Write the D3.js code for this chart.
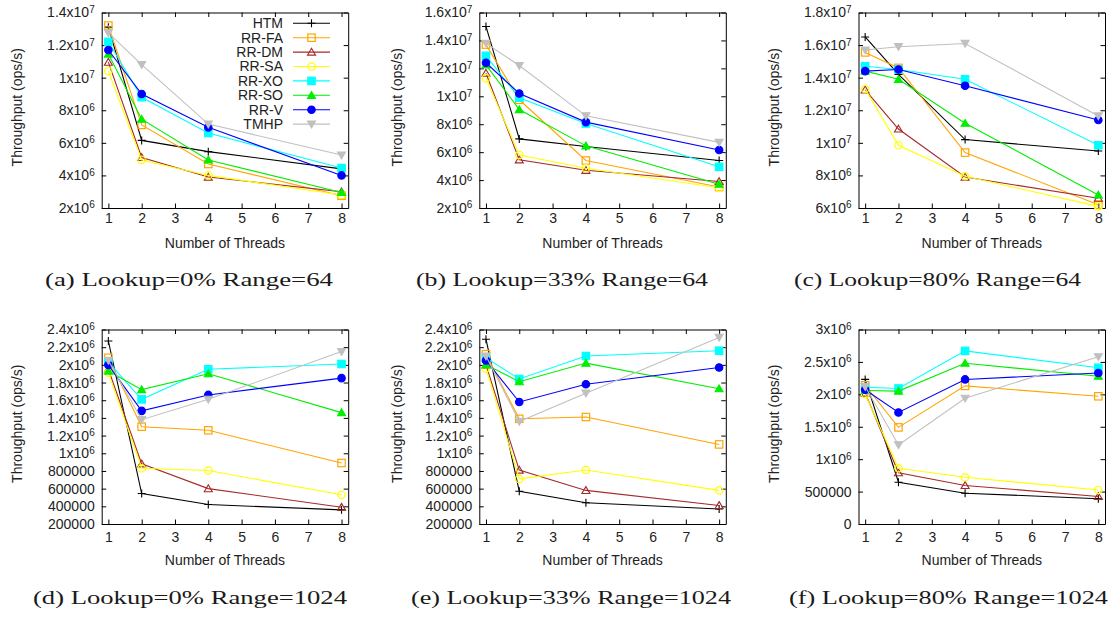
<!DOCTYPE html>
<html><head><meta charset="utf-8">
<script src="https://cdn.jsdelivr.net/npm/d3@7"></script>
<style>
body{margin:0;background:#fff}
svg{display:block}
text{font-family:"Liberation Sans",Arial,Helvetica,sans-serif}
</style>
</head><body>
<svg id="fig" width="1117" height="617"></svg>
<script>
// Thread counts on the x axis and the tick positions shown
const threads = [1, 2, 4, 8];
const xTicks = [1, 2, 3, 4, 5, 6, 7, 8];
const seriesNames = ["HTM", "RR-FA", "RR-DM", "RR-SA", "RR-XO", "RR-SO", "RR-V", "TMHP"];

// Throughput (ops/s) per series, order follows seriesNames
const panelA = [
  [13.1e6, 6.15e6, 5.46e6, 4.4e6],
  [13.2e6, 7.1e6, 4.7e6, 2.75e6],
  [10.95e6, 5.1e6, 3.9e6, 3.0e6],
  [10.4e6, 4.95e6, 4.0e6, 2.8e6],
  [12.2e6, 8.8e6, 6.6e6, 4.45e6],
  [11.45e6, 7.45e6, 4.95e6, 2.95e6],
  [11.7e6, 9.0e6, 6.95e6, 4.0e6],
  [12.75e6, 10.8e6, 7.15e6, 5.25e6]
];
const panelB = [
  [15.0e6, 6.95e6, 6.4e6, 5.4e6],
  [13.7e6, 9.75e6, 5.4e6, 3.5e6],
  [11.65e6, 5.45e6, 4.7e6, 3.9e6],
  [11.3e6, 5.8e6, 4.85e6, 3.45e6],
  [12.9e6, 9.9e6, 8.05e6, 4.95e6],
  [12.25e6, 9.05e6, 6.45e6, 3.7e6],
  [12.4e6, 10.2e6, 8.15e6, 6.15e6],
  [13.8e6, 12.2e6, 8.6e6, 6.7e6]
];
const panelC = [
  [16.5e6, 14.2e6, 10.2e6, 9.5e6],
  [15.55e6, 14.6e6, 9.4e6, 6.2e6],
  [13.25e6, 10.85e6, 7.9e6, 6.6e6],
  [13.3e6, 9.85e6, 7.95e6, 6.1e6],
  [14.7e6, 14.5e6, 13.9e6, 9.85e6],
  [14.4e6, 13.9e6, 11.2e6, 6.8e6],
  [14.4e6, 14.5e6, 13.5e6, 11.4e6],
  [15.7e6, 15.9e6, 16.1e6, 11.65e6]
];
const panelD = [
  [2.27e6, 5.45e5, 4.2e5, 3.6e5],
  [2.08e6, 1.3e6, 1.26e6, 8.9e5],
  [1.95e6, 8.8e5, 6.0e5, 3.9e5],
  [1.91e6, 8.3e5, 8.05e5, 5.3e5],
  [2.03e6, 1.61e6, 1.95e6, 2.01e6],
  [1.93e6, 1.72e6, 1.9e6, 1.46e6],
  [2.0e6, 1.48e6, 1.66e6, 1.85e6],
  [2.05e6, 1.38e6, 1.61e6, 2.15e6]
];
const panelE = [
  [2.29e6, 5.7e5, 4.4e5, 3.7e5],
  [2.12e6, 1.39e6, 1.41e6, 1.1e6],
  [2.0e6, 8.1e5, 5.8e5, 4.1e5],
  [1.96e6, 7.1e5, 8.1e5, 5.8e5],
  [2.08e6, 1.84e6, 2.1e6, 2.16e6],
  [2.0e6, 1.81e6, 2.02e6, 1.73e6],
  [2.05e6, 1.58e6, 1.78e6, 1.97e6],
  [2.1e6, 1.36e6, 1.68e6, 2.31e6]
];
const panelF = [
  [2.23e6, 6.45e5, 4.75e5, 3.9e5],
  [2.14e6, 1.49e6, 2.13e6, 1.97e6],
  [2.02e6, 7.9e5, 5.95e5, 4.25e5],
  [2.0e6, 8.6e5, 7.2e5, 5.25e5],
  [2.11e6, 2.09e6, 2.67e6, 2.41e6],
  [2.06e6, 2.05e6, 2.48e6, 2.28e6],
  [2.07e6, 1.72e6, 2.23e6, 2.33e6],
  [2.12e6, 1.22e6, 1.94e6, 2.58e6]
];

// Y tick values and their labels ("^" marks an exponent)
const yTicksA = [2e6, 4e6, 6e6, 8e6, 1e7, 1.2e7, 1.4e7];
const yLabelsA = ["2x10^6", "4x10^6", "6x10^6", "8x10^6", "1x10^7", "1.2x10^7", "1.4x10^7"];
const yTicksB = [2e6, 4e6, 6e6, 8e6, 1e7, 1.2e7, 1.4e7, 1.6e7];
const yLabelsB = ["2x10^6", "4x10^6", "6x10^6", "8x10^6", "1x10^7", "1.2x10^7", "1.4x10^7", "1.6x10^7"];
const yTicksC = [6e6, 8e6, 1e7, 1.2e7, 1.4e7, 1.6e7, 1.8e7];
const yLabelsC = ["6x10^6", "8x10^6", "1x10^7", "1.2x10^7", "1.4x10^7", "1.6x10^7", "1.8x10^7"];
const yTicksDE = [2e5, 4e5, 6e5, 8e5, 1e6, 1.2e6, 1.4e6, 1.6e6, 1.8e6, 2e6, 2.2e6, 2.4e6];
const yLabelsDE = ["200000", "400000", "600000", "800000", "1x10^6", "1.2x10^6", "1.4x10^6", "1.6x10^6", "1.8x10^6", "2x10^6", "2.2x10^6", "2.4x10^6"];
const yTicksF = [0, 5e5, 1e6, 1.5e6, 2e6, 2.5e6, 3e6];
const yLabelsF = ["0", "500000", "1x10^6", "1.5x10^6", "2x10^6", "2.5x10^6", "3x10^6"];

const captions = [
  "(a) Lookup=0% Range=64", "(b) Lookup=33% Range=64", "(c) Lookup=80% Range=64",
  "(d) Lookup=0% Range=1024", "(e) Lookup=33% Range=1024", "(f) Lookup=80% Range=1024"
];

// Line colours and point shapes, one per series
const colors = ["#000000", "#ffa500", "#a52a2a", "#ffff00", "#00ffff", "#00ee00", "#0000ff", "#c0c0c0"];
const shapes = ["plus", "openSquare", "openTriangle", "openCircle", "square", "triangle", "circle", "downTriangle"];

const panels = [
  {values: panelA, ticks: yTicksA, labels: yLabelsA, domain: [2e6, 1.4e7]},
  {values: panelB, ticks: yTicksB, labels: yLabelsB, domain: [2e6, 1.6e7]},
  {values: panelC, ticks: yTicksC, labels: yLabelsC, domain: [6e6, 1.8e7]},
  {values: panelD, ticks: yTicksDE, labels: yLabelsDE, domain: [2e5, 2.4e6]},
  {values: panelE, ticks: yTicksDE, labels: yLabelsDE, domain: [2e5, 2.4e6]},
  {values: panelF, ticks: yTicksF, labels: yLabelsF, domain: [0, 3e6]}
];

// Frame geometry of the 3x2 grid
const colLeft = [101.7, 479.3, 858.5];
const colTitleX = [17, 397, 774];
const plotW = 246.5;
const rows = [
  {top: 12.5, bottom: 208, tickPad: 5, titleBase: 248, capBase: 286},
  {top: 329.5, bottom: 524, tickPad: 8, titleBase: 565, capBase: 604}
];
const captionBox = [[45, 288], [416, 292], [794, 287], [33, 314], [411, 320], [789, 319]];

const svg = d3.select("#fig");
const TICK = 4.5;

function writeLabel(textSel, str) {
  textSel.text(null);
  const parts = str.split("^");
  textSel.append("tspan").text(parts[0]);
  if (parts[1]) {
    textSel.append("tspan").attr("dy", "-0.45em").attr("font-size", "10px").text(parts[1]);
  }
}

function marker(g, shape, color, cx, cy) {
  const s = 3.7;
  if (shape === "plus") {
    g.append("path").attr("d", `M${cx - 4},${cy}H${cx + 4}M${cx},${cy - 4}V${cy + 4}`)
      .attr("stroke", color).attr("stroke-width", 1.1).attr("fill", "none");
  } else if (shape === "openSquare" || shape === "square") {
    g.append("rect").attr("x", cx - s).attr("y", cy - s).attr("width", 2 * s).attr("height", 2 * s)
      .attr("fill", shape === "square" ? color : "none").attr("stroke", color).attr("stroke-width", 1.2);
  } else if (shape === "openCircle" || shape === "circle") {
    g.append("circle").attr("cx", cx).attr("cy", cy).attr("r", s)
      .attr("fill", shape === "circle" ? color : "none").attr("stroke", color).attr("stroke-width", 1.2);
  } else {
    const up = shape !== "downTriangle";
    const h = 3.8, w = 4;
    const d = up
      ? `M${cx},${cy - h}L${cx + w},${cy + h * 0.8}L${cx - w},${cy + h * 0.8}Z`
      : `M${cx},${cy + h}L${cx + w},${cy - h * 0.8}L${cx - w},${cy - h * 0.8}Z`;
    g.append("path").attr("d", d)
      .attr("fill", shape === "openTriangle" ? "none" : color).attr("stroke", color).attr("stroke-width", 1.1);
  }
}

function styleAxis(g) {
  g.selectAll("path.domain").attr("stroke", "#000").attr("stroke-width", 1);
  g.selectAll(".tick line").attr("stroke", "#000").attr("stroke-width", 1);
  g.selectAll("text").attr("fill", "#222").attr("font-size", "14px")
    .attr("font-family", "'Liberation Sans', Arial, sans-serif");
  g.attr("font-family", null).attr("font-size", null);
}

panels.forEach((p, i) => {
  const col = i % 3, row = rows[Math.floor(i / 3)];
  const x0 = colLeft[col], x1 = x0 + plotW;
  const x = d3.scaleLinear().domain([0.8, 8.2]).range([x0, x1]);
  const y = d3.scaleLinear().domain(p.domain).range([row.bottom, row.top]);
  const g = svg.append("g");

  // axes with inward ticks, mirrored on top and right
  const bottom = g.append("g").attr("transform", `translate(0,${row.bottom})`)
    .call(d3.axisBottom(x).tickValues(xTicks).tickSize(-TICK).tickSizeOuter(0).tickPadding(row.tickPad).tickFormat(d3.format("d")));
  const top = g.append("g").attr("transform", `translate(0,${row.top})`)
    .call(d3.axisTop(x).tickValues(xTicks).tickSize(-TICK).tickSizeOuter(0).tickFormat(""));
  const left = g.append("g").attr("transform", `translate(${x0},0)`)
    .call(d3.axisLeft(y).tickValues(p.ticks).tickSize(-TICK).tickSizeOuter(0).tickPadding(7)
      .tickFormat((d, k) => p.labels[k]));
  const right = g.append("g").attr("transform", `translate(${x1},0)`)
    .call(d3.axisRight(y).tickValues(p.ticks).tickSize(-TICK).tickSizeOuter(0).tickFormat(""));
  [bottom, top, left, right].forEach(styleAxis);
  left.selectAll(".tick text").each(function (d, k) { writeLabel(d3.select(this), p.labels[k]); });

  // axis titles
  g.append("text").attr("x", (x0 + x1) / 2).attr("y", row.titleBase).attr("text-anchor", "middle")
    .attr("font-size", "14px").attr("fill", "#222").text("Number of Threads");
  g.append("text").attr("transform", `translate(${colTitleX[col]},${(row.top + row.bottom) / 2 - 3}) rotate(-90)`)
    .attr("text-anchor", "middle").attr("dominant-baseline", "central")
    .attr("font-size", "14px").attr("fill", "#222").text("Throughput (ops/s)");

  // series lines and points
  const line = d3.line().x((d, k) => x(threads[k])).y(d => y(d));
  p.values.forEach((vals, s) => {
    const sg = g.append("g");
    sg.append("path").datum(vals).attr("d", line).attr("fill", "none")
      .attr("stroke", colors[s]).attr("stroke-width", 1.1);
    vals.forEach((v, k) => marker(sg, shapes[s], colors[s], x(threads[k]), y(v)));
  });

  // caption under each panel
  const [cx, cw] = captionBox[i];
  svg.append("text").attr("x", cx).attr("y", row.capBase)
    .attr("textLength", cw).attr("lengthAdjust", "spacingAndGlyphs")
    .style("font-family", "'Liberation Serif', 'DejaVu Serif', serif").attr("font-size", "18px")
    .attr("fill", "#1a1a1a").text(captions[i]);

  // key, drawn inside the first panel only
  if (i === 0) {
    const leg = g.append("g");
    seriesNames.forEach((name, s) => {
      const ly = 23.3 + s * 14.4;
      leg.append("text").attr("x", 283).attr("y", ly).attr("dy", "0.35em").attr("text-anchor", "end")
        .attr("font-size", "14px").attr("fill", "#222").text(name);
      leg.append("line").attr("x1", 293).attr("x2", 330).attr("y1", ly).attr("y2", ly)
        .attr("stroke", colors[s]).attr("stroke-width", 1.1);
      marker(leg, shapes[s], colors[s], 311.5, ly);
    });
  }
});
</script>
</body></html>
